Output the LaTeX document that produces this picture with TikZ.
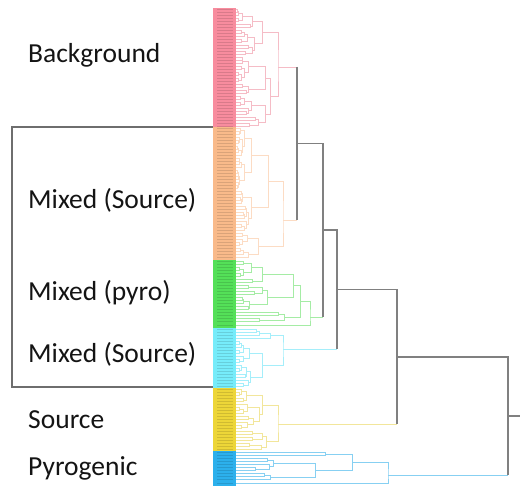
\documentclass[tikz,border=0pt]{standalone}
\usepackage{fontspec}
\setmainfont{Carlito}
\definecolor{pinkbar}{RGB}{248,140,158}
\definecolor{orangebar}{RGB}{249,186,138}
\definecolor{greenbar}{RGB}{84,224,88}
\definecolor{cyanbar}{RGB}{118,236,250}
\definecolor{yellowbar}{RGB}{237,214,56}
\definecolor{bluebar}{RGB}{44,176,236}
\definecolor{pinkln}{RGB}{245,188,198}
\definecolor{orangeln}{RGB}{252,220,196}
\definecolor{greenln}{RGB}{165,236,165}
\definecolor{cyanln}{RGB}{165,238,250}
\definecolor{yellowln}{RGB}{242,230,155}
\definecolor{blueln}{RGB}{135,208,242}
\definecolor{maingray}{RGB}{128,128,128}
\definecolor{boxgray}{RGB}{110,110,110}
\tikzset{
  lbl/.style={font=\fontsize{27.5}{33}\selectfont, inner sep=0pt, text=black!92, anchor=base west},
  dline/.style={draw=pinkln, line width=0.8pt},
  mainln/.style={draw=maingray, line width=1.5pt},
  leaftick/.style={draw=black, opacity=0.12, line width=0.5pt},
}
\def\dsp{3}
\def\dleafx{236}
\newcommand\dtree[3]{%
  \begingroup
  \edef\dT{#1}\edef\dN{#2}\edef\dH{#3}%
  \ifnum\dN<2
    \pgfmathsetmacro\dY{\dT+\dsp/2}%
    \draw[leaftick] (217,\dY) -- (233,\dY);
    \xdef\retx{\dleafx}\xdef\rety{\dY}%
  \else
    \pgfmathsetmacro\dR{rnd}%
    \pgfmathtruncatemacro\dNa{max(1,min(\dN-1,round(\dN*(0.3+0.4*\dR))))}%
    \pgfmathtruncatemacro\dNb{\dN-\dNa}%
    \pgfmathsetmacro\dHa{\dleafx+(\dH-\dleafx)*(0.4+0.5*rnd)}%
    \pgfmathsetmacro\dHb{\dleafx+(\dH-\dleafx)*(0.4+0.5*rnd)}%
    \pgfmathsetmacro\dYb{\dT+\dNa*\dsp}%
    \dtree{\dT}{\dNa}{\dHa}%
    \let\dAx\retx\let\dAy\rety
    \dtree{\dYb}{\dNb}{\dHb}%
    \draw[dline] (\dAx,\dAy) -- (\dH,\dAy) -- (\dH,\rety) -- (\retx,\rety);
    \pgfmathsetmacro\dY{(\dAy+\rety)/2}%
    \xdef\retx{\dH}\xdef\rety{\dY}%
  \fi
  \endgroup}
\newcommand\dsave[1]{%
  \expandafter\xdef\csname dX#1\endcsname{\retx}%
  \expandafter\xdef\csname dY#1\endcsname{\rety}}
\newcommand\dleaf[1]{%
  \draw[leaftick] (217,#1) -- (233,#1);
  \xdef\retx{\dleafx}\xdef\rety{#1}}
\newcommand\djoin[3]{%
  \edef\jax{\csname dX#2\endcsname}\edef\jay{\csname dY#2\endcsname}%
  \edef\jbx{\csname dX#3\endcsname}\edef\jby{\csname dY#3\endcsname}%
  \draw[dline] (\jax,\jay) -- (#1,\jay) -- (#1,\jby) -- (\jbx,\jby);
  \pgfmathsetmacro\dY{(\jay+\jby)/2}%
  \xdef\retx{#1}\xdef\rety{\dY}}
\newcommand\djoinat[4]{%
  \edef\jax{\csname dX#2\endcsname}\edef\jay{\csname dY#2\endcsname}%
  \edef\jbx{\csname dX#3\endcsname}\edef\jby{\csname dY#3\endcsname}%
  \draw[dline] (\jax,\jay) -- (#1,\jay) -- (#1,#4) -- (#1,\jby) -- (\jbx,\jby);
  \xdef\retx{#1}\xdef\rety{#4}}
\begin{document}
\begin{tikzpicture}[x=1pt,y=-1pt]
\useasboundingbox (0,0) rectangle (520,495);
\pgfmathsetseed{12}
% box around mixed groups
\draw[draw=boxgray, line width=1.2pt] (12,127) rectangle (214,387);
% colour bar
\fill[pinkbar]   (213,8)   rectangle (236,127);
\fill[orangebar] (213,127) rectangle (236,260);
\fill[greenbar]  (213,260) rectangle (236,328);
\fill[cyanbar]   (213,328) rectangle (236,388);
\fill[yellowbar] (213,388) rectangle (236,451);
\fill[bluebar]   (213,451) rectangle (236,486);
% labels
\node[lbl] (bg)  at (28,63)  {Background};
\node[lbl] (ms1) at (28,208) {Mixed (Source)};
\node[lbl] (mp)  at (28,300) {Mixed (pyro)};
\node[lbl] (ms2) at (28,362) {Mixed (Source)};
\node[lbl] (src) at (28,428) {Source};
\node[lbl] (pyr) at (28,475) {Pyrogenic};
% pink cluster
\tikzset{dline/.style={draw=pinkln, line width=0.8pt}}
\dtree{8}{16}{262}\dsave{pa}
\dtree{56}{24}{270}\dsave{pb}
\djoinat{278}{pa}{pb}{67}\dsave{P}
\draw[dline] (\dXP,\dYP) -- (297,\dYP);
% orange cluster
\tikzset{dline/.style={draw=orangeln, line width=0.8pt}}
\dtree{127}{35}{268}\dsave{oa}
\dtree{232}{9}{258}\dsave{ob}
\djoinat{283}{oa}{ob}{220}\dsave{O}
\draw[dline] (\dXO,\dYO) -- (297,\dYO);
% green cluster
\tikzset{dline/.style={draw=greenln, line width=0.8pt}}
\dtree{260}{17}{293}\dsave{ga}
\dtree{311}{4}{284}\dsave{gb}
\djoin{300}{ga}{gb}\dsave{gc}
\dleaf{325.5}\dsave{gd}
\djoinat{310}{gc}{gd}{317}\dsave{G}
\draw[dline] (\dXG,\dYG) -- (323,\dYG);
% cyan cluster
\tikzset{dline/.style={draw=cyanln, line width=0.8pt}}
\dtree{328}{4}{270}\dsave{ca}
\dtree{340}{16}{262}\dsave{cb}
\djoinat{283}{ca}{cb}{349}\dsave{C}
\draw[dline] (\dXC,\dYC) -- (337,\dYC);
% yellow cluster
\tikzset{dline/.style={draw=yellowln, line width=0.8pt}}
\dtree{388}{14}{262}\dsave{ya}
\dtree{430}{7}{266}\dsave{yb}
\djoinat{278}{ya}{yb}{424}\dsave{Y}
\draw[dline] (\dXY,\dYY) -- (397,\dYY);
% blue cluster
\tikzset{dline/.style={draw=blueln, line width=0.8pt}}
\dleaf{452.5}\dsave{ba}
\dleaf{455.5}\dsave{bb}
\djoin{325}{ba}{bb}\dsave{bc}
\dtree{457}{8}{315}\dsave{bd}
\djoin{352}{bc}{bd}\dsave{be}
\dleaf{483.5}\dsave{bf}
\djoinat{388}{be}{bf}{475}\dsave{B}
\draw[dline] (\dXB,\dYB) -- (508,\dYB);
% main grey links
\draw[mainln] (297,\dYP) -- (297,\dYO);
\draw[mainln] (297,143.5) -- (323,143.5) -- (323,\dYG);
\draw[mainln] (323,230) -- (337,230) -- (337,\dYC);
\draw[mainln] (337,289.5) -- (397,289.5) -- (397,\dYY);
\draw[mainln] (397,357) -- (508,357) -- (508,\dYB);
\draw[mainln] (508,416) -- (520,416);
\end{tikzpicture}
\end{document}
